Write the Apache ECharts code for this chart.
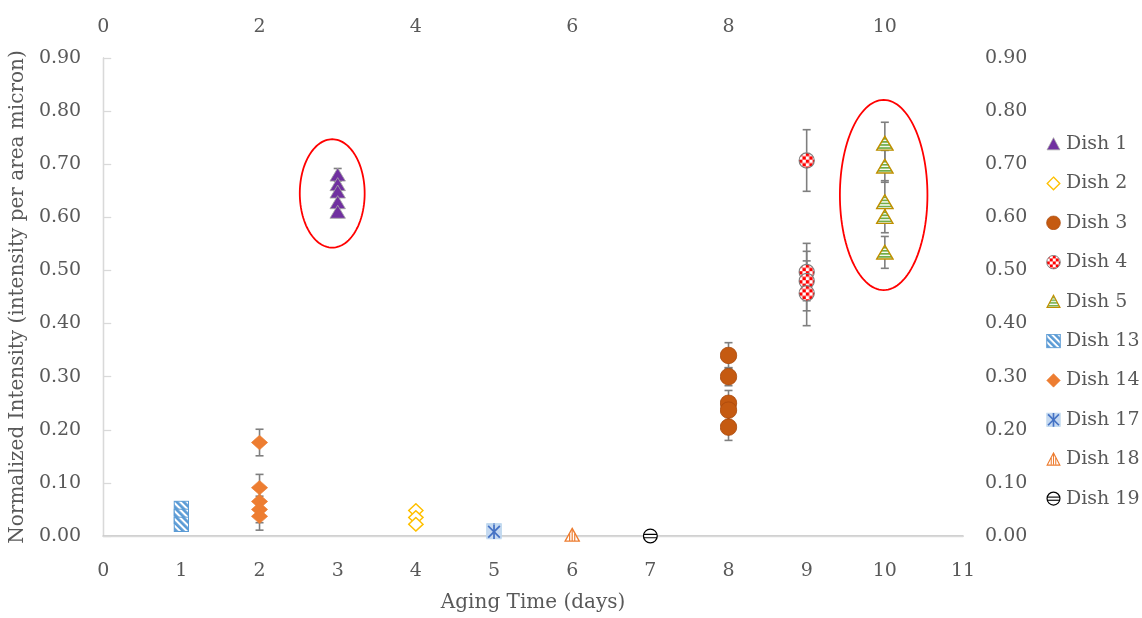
<!DOCTYPE html>
<html>
<head>
<meta charset="utf-8">
<title>Normalized Intensity vs Aging Time</title>
<script src="https://cdn.jsdelivr.net/npm/echarts@6/dist/echarts.min.js"></script>
<style>
  html, body { margin: 0; padding: 0; background: #ffffff; }
  #chart { width: 1142px; height: 618px; }
</style>
</head>
<body>
<div id="chart"></div>
<script>
// ---- data -------------------------------------------------------------
const dishNames = ['Dish 1', 'Dish 2', 'Dish 3', 'Dish 4', 'Dish 5',
                   'Dish 13', 'Dish 14', 'Dish 17', 'Dish 18', 'Dish 19'];
const dishDays  = [3, 4, 8, 9, 10, 1, 2, 5, 6, 7];

// normalized intensity per replicate, one array per dish
const dish1Values  = [0.680, 0.662, 0.648, 0.628, 0.610];
const dish2Values  = [0.048, 0.035, 0.022];
const dish3Values  = [0.340, 0.300, 0.250, 0.237, 0.205];
const dish4Values  = [0.707, 0.497, 0.480, 0.457];
const dish5Values  = [0.739, 0.696, 0.629, 0.601, 0.534];
const dish13Values = [0.052, 0.037, 0.022];
const dish14Values = [0.176, 0.091, 0.065, 0.050, 0.037];
const dish17Values = [0.010, 0.008];
const dish18Values = [0.002];
const dish19Values = [0.000];

// error-bar half widths per replicate (0 = none drawn)
const dish1Err  = [0.012, 0.010, 0.010, 0.010, 0.010];
const dish2Err  = [0, 0, 0];
const dish3Err  = [0.024, 0.017, 0.024, 0.024, 0.025];
const dish4Err  = [0.058, 0.054, 0.056, 0.061];
const dish5Err  = [0.040, 0.030, 0.040, 0.030, 0.030];
const dish13Err = [0, 0, 0];
const dish14Err = [0.025, 0.025, 0.025, 0.025, 0.026];
const dish17Err = [0, 0];
const dish18Err = [0];
const dish19Err = [0];

const dishValues = [dish1Values, dish2Values, dish3Values, dish4Values, dish5Values,
                    dish13Values, dish14Values, dish17Values, dish18Values, dish19Values];
const dishErrors = [dish1Err, dish2Err, dish3Err, dish4Err, dish5Err,
                    dish13Err, dish14Err, dish17Err, dish18Err, dish19Err];

// highlight rings: centre day, centre intensity, half width (days), half height (intensity)
const ringCentreDays = [2.93, 9.985];
const ringCentreVals = [0.645, 0.642];
const ringHalfDays   = [0.415, 0.56];
const ringHalfVals   = [0.102, 0.179];

// axis ticks
const xTickStep = 1, xTopTickStep = 2, xMax = 11;
const yTickStep = 0.1, yMax = 0.9;

// ---- marker artwork ---------------------------------------------------
function svgSymbol(body) {
  const svg = '<svg xmlns="http://www.w3.org/2000/svg" width="40" height="40" viewBox="0 0 20 20">' + body + '</svg>';
  return 'image://data:image/svg+xml;charset=utf-8,' + encodeURIComponent(svg);
}
const markerArt = [
  // Dish 1: filled purple triangle
  svgSymbol('<polygon points="10,1.5 18.6,17.8 1.4,17.8" fill="#7030A0" stroke="#A6A6A6" stroke-width="1"/>'),
  // Dish 2: open gold diamond
  svgSymbol('<polygon points="10,1.6 18.4,10 10,18.4 1.6,10" fill="#ffffff" stroke="#FFC000" stroke-width="1.8"/>'),
  // Dish 3: rust circle
  svgSymbol('<circle cx="10" cy="10" r="9.2" fill="#C55A11" stroke="#A9490C" stroke-width="0.9"/>'),
  // Dish 4: red checker circle
  svgSymbol('<defs><pattern id="ck" x="1" y="1" width="8" height="8" patternUnits="userSpaceOnUse">' +
            '<rect width="8" height="8" fill="#ffffff"/><rect width="4" height="4" fill="#FF0000"/>' +
            '<rect x="4" y="4" width="4" height="4" fill="#FF0000"/></pattern></defs>' +
            '<circle cx="10" cy="10" r="9" fill="url(#ck)" stroke="#7F7F7F" stroke-width="1.3"/>'),
  // Dish 5: olive triangle with green horizontal stripes
  svgSymbol('<defs><pattern id="hs" width="4" height="3.6" patternUnits="userSpaceOnUse">' +
            '<rect width="4" height="3.6" fill="#ffffff"/><rect width="4" height="2" fill="#70AD47"/></pattern></defs>' +
            '<polygon points="10,1.6 18.6,17.8 1.4,17.8" fill="url(#hs)" stroke="#BF9000" stroke-width="1.6"/>'),
  // Dish 13: blue square with diagonal stripes
  svgSymbol('<defs><pattern id="dg" width="6" height="6" patternUnits="userSpaceOnUse" patternTransform="rotate(-45)">' +
            '<rect width="6" height="6" fill="#ffffff"/><rect width="3.4" height="6" fill="#5B9BD5"/></pattern></defs>' +
            '<rect x="1" y="1" width="18" height="18" fill="url(#dg)" stroke="#5B9BD5" stroke-width="1.4"/>'),
  // Dish 14: filled orange diamond
  svgSymbol('<polygon points="10,1 19,10 10,19 1,10" fill="#ED7D31" stroke="#ED7D31" stroke-width="0.8"/>'),
  // Dish 17: blue asterisk in a pale square
  svgSymbol('<rect x="1" y="1" width="18" height="18" fill="#C5D9F1" stroke="#BDD7EE" stroke-width="1"/>' +
            '<g stroke="#4472C4" stroke-width="2.2" stroke-linecap="square">' +
            '<line x1="3.5" y1="3.5" x2="16.5" y2="16.5"/><line x1="16.5" y1="3.5" x2="3.5" y2="16.5"/>' +
            '<line x1="10" y1="2" x2="10" y2="18"/></g>'),
  // Dish 18: orange triangle with vertical stripes
  svgSymbol('<polygon points="10,1.8 18.4,17.8 1.6,17.8" fill="#ffffff" stroke="#ED7D31" stroke-width="1.6"/>' +
            '<g stroke="#ED7D31" stroke-width="1.4"><line x1="10" y1="3" x2="10" y2="17.5"/>' +
            '<line x1="7" y1="8.5" x2="7" y2="17.5"/><line x1="13" y1="8.5" x2="13" y2="17.5"/></g>'),
  // Dish 19: black circle with two horizontal bars
  svgSymbol('<circle cx="10" cy="10" r="8.6" fill="#ffffff" stroke="#000000" stroke-width="1.6"/>' +
            '<g stroke="#000000" stroke-width="1.5"><line x1="1.6" y1="8" x2="18.4" y2="8"/>' +
            '<line x1="1.6" y1="12.2" x2="18.4" y2="12.2"/></g>')
];
const markerSizes = [[18, 16], [17, 16], 18, 17, [19, 17], 16, [18, 16], 16, [17, 16], 16];

// ---- chart ------------------------------------------------------------
const fontFamily = '"DejaVu Serif", "Liberation Serif", serif';
const textColor = '#595959';
const frameColor = '#D9D9D9';

const scatterSeries = dishNames.map((name, i) => ({
  name: name,
  type: 'scatter',
  xAxisIndex: 0,
  yAxisIndex: 0,
  symbol: markerArt[i],
  symbolSize: markerSizes[i],
  itemStyle: { opacity: 1 },
  z: 3,
  data: dishValues[i].map(v => [dishDays[i], v])
}));

const errorData = [];
dishValues.forEach((vals, i) => {
  vals.forEach((v, j) => {
    if (dishErrors[i][j] > 0) errorData.push([dishDays[i], v, dishErrors[i][j]]);
  });
});

const errorSeries = {
  name: 'error bars',
  type: 'custom',
  xAxisIndex: 0,
  yAxisIndex: 0,
  z: 2,
  silent: true,
  data: errorData,
  renderItem: function (params, api) {
    const x = api.value(0), y = api.value(1), e = api.value(2);
    const top = api.coord([x, y + e]);
    const bot = api.coord([x, y - e]);
    const cap = 4;
    const st = { stroke: '#7F7F7F', lineWidth: 1.6 };
    return {
      type: 'group',
      children: [
        { type: 'line', shape: { x1: top[0], y1: top[1], x2: bot[0], y2: bot[1] }, style: st },
        { type: 'line', shape: { x1: top[0] - cap, y1: top[1], x2: top[0] + cap, y2: top[1] }, style: st },
        { type: 'line', shape: { x1: bot[0] - cap, y1: bot[1], x2: bot[0] + cap, y2: bot[1] }, style: st }
      ]
    };
  }
};

const ringSeries = {
  name: 'highlight rings',
  type: 'custom',
  xAxisIndex: 0,
  yAxisIndex: 0,
  z: 4,
  silent: true,
  data: ringCentreDays.map((d, i) => [d, ringCentreVals[i], ringHalfDays[i], ringHalfVals[i]]),
  renderItem: function (params, api) {
    const c = api.coord([api.value(0), api.value(1)]);
    const s = api.size([api.value(2), api.value(3)]);
    const pts = [];
    const n = 120;
    for (let k = 0; k < n; k++) {
      const t = (k / n) * Math.PI * 2;
      pts.push([c[0] + s[0] * Math.cos(t), c[1] + s[1] * Math.sin(t)]);
    }
    return {
      type: 'polygon',
      shape: { points: pts },
      style: { fill: 'none', stroke: '#FF0000', lineWidth: 1.8 }
    };
  }
};

const labelStyle = { fontFamily: fontFamily, fontSize: 19, color: textColor };

const option = {
  animation: false,
  backgroundColor: '#ffffff',
  grid: { left: 101, right: 179, top: 58, bottom: 79, containLabel: false },
  legend: {
    orient: 'vertical',
    left: 1046,
    top: 134,
    padding: 0,
    itemWidth: 15,
    itemHeight: 15,
    itemGap: 19.4,
    data: dishNames,
    textStyle: { fontFamily: fontFamily, fontSize: 19, color: textColor, lineHeight: 20 },
    selectedMode: false
  },
  xAxis: [
    {
      type: 'value', position: 'bottom',
      min: 0, max: xMax, interval: xTickStep,
      axisLine: { show: true, lineStyle: { color: '#BFBFBF', width: 1.5 } },
      axisTick: { show: false },
      splitLine: { show: false },
      axisLabel: Object.assign({ margin: 26 }, labelStyle),
      name: 'Aging Time (days)',
      nameLocation: 'middle',
      nameGap: 57,
      nameTextStyle: { fontFamily: fontFamily, fontSize: 20, color: textColor }
    },
    {
      type: 'value', position: 'top',
      min: 0, max: xMax, interval: xTopTickStep,
      axisLine: { show: true, lineStyle: { color: frameColor, width: 1.3 } },
      axisTick: { show: false },
      splitLine: { show: false },
      axisLabel: Object.assign({ margin: 21, showMaxLabel: false }, labelStyle)
    }
  ],
  yAxis: [
    {
      type: 'value', position: 'left',
      min: 0, max: yMax, interval: yTickStep,
      axisLine: { show: true, lineStyle: { color: frameColor, width: 1.3 } },
      axisTick: { show: false },
      splitLine: { show: false },
      axisLabel: Object.assign({ margin: 22, formatter: v => v.toFixed(2) }, labelStyle),
      name: 'Normalized Intensity (intensity per area micron)',
      nameLocation: 'middle',
      nameGap: 69,
      nameTextStyle: { fontFamily: fontFamily, fontSize: 20, color: textColor }
    },
    {
      type: 'value', position: 'right',
      min: 0, max: yMax, interval: yTickStep,
      axisLine: { show: true, lineStyle: { color: frameColor, width: 1.3 } },
      axisTick: { show: true, inside: false, length: 8, lineStyle: { color: frameColor, width: 1.3 } },
      splitLine: { show: false },
      axisLabel: Object.assign({ margin: 22, formatter: v => v.toFixed(2) }, labelStyle)
    }
  ],
  series: [errorSeries].concat(scatterSeries, [ringSeries])
};

const chart = echarts.init(document.getElementById('chart'), null, { renderer: 'canvas' });
chart.setOption(option);
</script>
</body>
</html>
